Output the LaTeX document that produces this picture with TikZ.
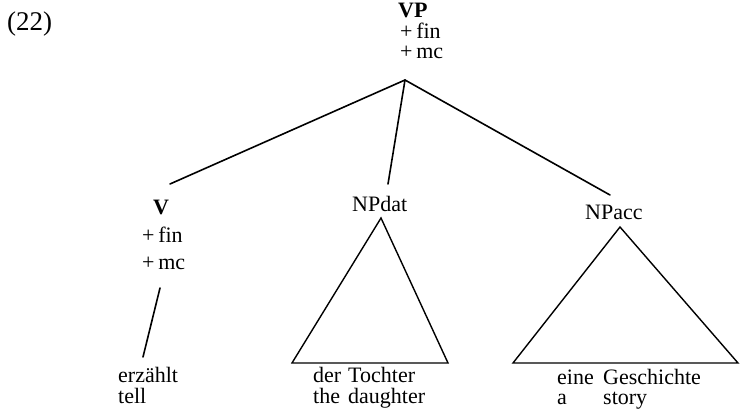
\documentclass[tikz,border=0pt]{standalone}
\usepackage{fontspec}
\setmainfont{Liberation Serif}
\begin{document}
\begin{tikzpicture}[x=1pt,y=-1pt,
  lbl/.style={anchor=base west,inner sep=0pt,font=\fontsize{22}{24}\selectfont},
  cat/.style={lbl,font=\fontsize{22}{24}\selectfont\bfseries},
  branch/.style={line width=1.6pt,line cap=round},
  tri/.style={line width=1.4pt,line join=miter}]
\useasboundingbox (0,0) rectangle (740,414);

% example number
\node[lbl,font=\fontsize{27}{30}\selectfont] (num) at (7,31) {(22)};

% root VP with features
\node[cat] (vp) at (398,18) {VP};
\node[lbl] (vpfin) at (400,39) {+\,fin};
\node[lbl] (vpmc) at (400,59) {+\,mc};
\coordinate (vpapex) at (405,80);

% verb
\node[cat] (v) at (153,215) {V};
\node[lbl] (vfin) at (142,243) {+\,fin};
\node[lbl] (vmc) at (142,270) {+\,mc};
\coordinate (vtop) at (170,184);
\coordinate (vbot) at (160,288);
\coordinate (wtop) at (143,357);
\node[lbl] (erz) at (118,383) {erzählt};
\node[lbl] (tell) at (118,403) {tell};

% dative NP
\node[lbl] (npdat) at (352,212) {NPdat};
\coordinate (dattop) at (388,184);
\coordinate (datA) at (381,218);
\coordinate (datL) at (292,363);
\coordinate (datR) at (448,363);
\node[lbl] (der) at (313,383) {der};
\node[lbl] (tochter) at (348,383) {Tochter};
\node[lbl] (the) at (313,404) {the};
\node[lbl] (daughter) at (348,404) {daughter};

% accusative NP
\node[lbl] (npacc) at (585,220) {NPacc};
\coordinate (acctop) at (610,195);
\coordinate (accA) at (620,227);
\coordinate (accL) at (513,363);
\coordinate (accR) at (738,363);
\node[lbl] (eine) at (557,385) {eine};
\node[lbl] (gesch) at (603,385) {Geschichte};
\node[lbl] (a) at (557,405) {a};
\node[lbl] (story) at (603,405) {story};

% branches
\draw[branch] (vpapex) -- (vtop);
\draw[branch] (vpapex) -- (dattop);
\draw[branch] (vpapex) -- (acctop);
\draw[branch] (vbot) -- (wtop);

% triangles
\draw[tri] (datA) -- (datL) -- (datR) -- cycle;
\draw[tri] (accA) -- (accL) -- (accR) -- cycle;
\end{tikzpicture}
\end{document}
